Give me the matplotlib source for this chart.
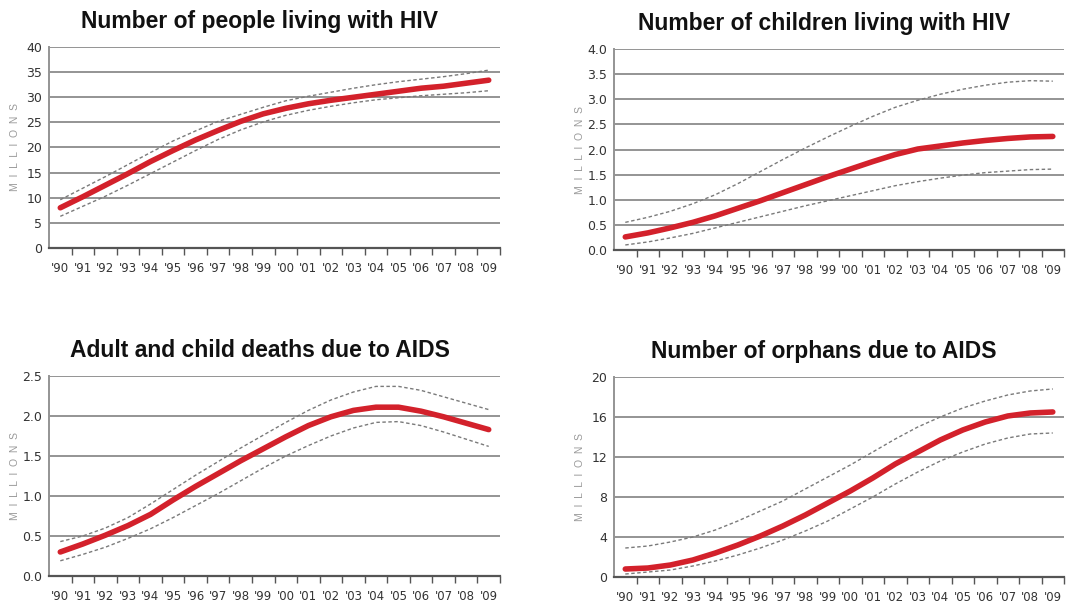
import numpy as np
import matplotlib
matplotlib.use("Agg")
import matplotlib.pyplot as plt

plt.rcParams.update({"font.family": ["Liberation Sans", "DejaVu Sans"]})

# ---- data (millions), 1990..2009 ----
years = ["'90", "'91", "'92", "'93", "'94", "'95", "'96", "'97", "'98", "'99",
         "'00", "'01", "'02", "'03", "'04", "'05", "'06", "'07", "'08", "'09"]

people_mid = [8.0, 10.2, 12.5, 14.8, 17.2, 19.4, 21.5, 23.4, 25.2, 26.7,
              27.8, 28.7, 29.4, 30.0, 30.6, 31.2, 31.8, 32.2, 32.8, 33.4]
people_hi = [9.6, 11.9, 14.2, 16.6, 19.0, 21.3, 23.3, 25.2, 26.6, 28.0,
             29.3, 30.2, 31.0, 31.8, 32.5, 33.1, 33.6, 34.1, 34.7, 35.4]
people_lo = [6.3, 8.3, 10.3, 12.5, 14.8, 17.1, 19.4, 21.6, 23.5, 25.1,
             26.4, 27.4, 28.2, 28.9, 29.5, 29.9, 30.3, 30.6, 30.9, 31.3]

child_mid = [0.26, 0.34, 0.44, 0.55, 0.68, 0.83, 0.98, 1.14, 1.30, 1.46,
             1.61, 1.76, 1.90, 2.01, 2.07, 2.13, 2.18, 2.22, 2.25, 2.26]
child_hi = [0.55, 0.65, 0.77, 0.92, 1.10, 1.32, 1.56, 1.80, 2.03, 2.25,
            2.46, 2.66, 2.84, 2.98, 3.10, 3.20, 3.28, 3.34, 3.37, 3.36]
child_lo = [0.10, 0.16, 0.24, 0.33, 0.44, 0.55, 0.66, 0.77, 0.88, 0.98,
            1.08, 1.18, 1.28, 1.36, 1.43, 1.49, 1.54, 1.57, 1.60, 1.61]

death_mid = [0.30, 0.40, 0.51, 0.63, 0.77, 0.95, 1.12, 1.28, 1.44, 1.59,
             1.74, 1.88, 1.99, 2.07, 2.11, 2.11, 2.06, 1.99, 1.91, 1.83]
death_hi = [0.43, 0.50, 0.60, 0.73, 0.90, 1.08, 1.26, 1.43, 1.60, 1.76,
            1.92, 2.07, 2.20, 2.30, 2.37, 2.37, 2.32, 2.24, 2.16, 2.08]
death_lo = [0.19, 0.27, 0.36, 0.47, 0.59, 0.73, 0.88, 1.03, 1.19, 1.35,
            1.50, 1.63, 1.75, 1.85, 1.92, 1.93, 1.88, 1.80, 1.71, 1.62]

orph_mid = [0.8, 0.9, 1.2, 1.7, 2.4, 3.2, 4.1, 5.1, 6.2, 7.4,
            8.6, 9.9, 11.3, 12.5, 13.7, 14.7, 15.5, 16.1, 16.4, 16.5]
orph_hi = [2.9, 3.1, 3.5, 4.0, 4.7, 5.6, 6.6, 7.6, 8.8, 10.0,
           11.2, 12.5, 13.8, 15.0, 16.0, 16.9, 17.6, 18.2, 18.6, 18.8]
orph_lo = [0.3, 0.5, 0.7, 1.1, 1.6, 2.2, 2.9, 3.7, 4.6, 5.6,
           6.8, 8.0, 9.3, 10.5, 11.6, 12.5, 13.3, 13.9, 14.3, 14.4]

panels = [
    ("Number of people living with HIV", people_mid, people_hi, people_lo,
     [0, 5, 10, 15, 20, 25, 30, 35, 40], "{:.0f}"),
    ("Number of children living with HIV", child_mid, child_hi, child_lo,
     [0, 0.5, 1.0, 1.5, 2.0, 2.5, 3.0, 3.5, 4.0], "{:.1f}"),
    ("Adult and child deaths due to AIDS", death_mid, death_hi, death_lo,
     [0, 0.5, 1.0, 1.5, 2.0, 2.5], "{:.1f}"),
    ("Number of orphans due to AIDS", orph_mid, orph_hi, orph_lo,
     [0, 4, 8, 12, 16, 20], "{:.0f}"),
]

# axes rectangles in figure fractions (left, bottom, width, height)
rects = [(0.0453, 0.5928, 0.4168, 0.330), (0.5675, 0.5895, 0.4159, 0.330),
         (0.0453, 0.0542, 0.4168, 0.3284), (0.5675, 0.0525, 0.4159, 0.3285)]

NARROW = ["Liberation Sans Narrow", "DejaVu Sans"]
RED = "#d3212b"

fig = plt.figure(figsize=(10.82, 6.09), dpi=100)
x = np.arange(len(years))

for (title, mid, hi, lo, yt, fmt), r in zip(panels, rects):
    ax = fig.add_axes(r)
    ax.plot(x, hi, color="#7a7a7a", lw=1.0, ls=(0, (2.5, 1.8)), zorder=3)
    ax.plot(x, lo, color="#7a7a7a", lw=1.0, ls=(0, (2.5, 1.8)), zorder=3)
    ax.plot(x, mid, color=RED, lw=4.0, solid_capstyle="round", zorder=4)
    ax.set_xlim(-0.5, len(years) - 0.5)
    ax.set_ylim(yt[0], yt[-1])
    ax.set_yticks(yt)
    ax.set_yticklabels([fmt.format(v) for v in yt], family=NARROW, fontsize=9, color="#333333")
    ax.set_xticks(x + 0.5)
    ax.set_xticklabels([])
    ax.set_xticks(x, minor=True)
    ax.set_xticklabels(years, minor=True, family=NARROW, fontsize=8.5, color="#333333")
    ax.tick_params(axis="x", which="major", direction="out", length=5, width=1, color="#555555")
    ax.tick_params(axis="x", which="minor", length=0, pad=10)
    ax.tick_params(axis="y", length=0, pad=5)
    ax.grid(axis="y", color="#949494", lw=1.4, zorder=0)
    for s in ("top", "right"):
        ax.spines[s].set_visible(False)
    ax.spines["left"].set_color("#949494")
    ax.spines["left"].set_linewidth(1.4)
    ax.spines["bottom"].set_color("#555555")
    ax.spines["bottom"].set_linewidth(1.6)
    ax.text(0.467, 1.0 + 25 / 200, title, transform=ax.transAxes, ha="center", va="center",
            fontsize=16.5, fontweight="bold", color="#111111")
    ax.text(-34 / 450, 0.5, "M  I  L  L  I  O  N  S", transform=ax.transAxes, rotation=90,
            ha="center", va="center", fontsize=7.5, color="#9a9a9a")

fig.savefig("out.png", dpi=100)
